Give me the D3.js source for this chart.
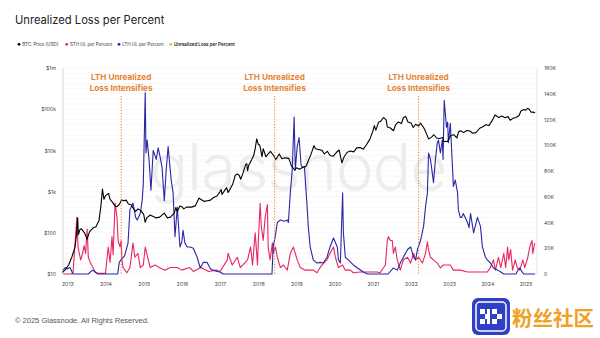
<!DOCTYPE html>
<html><head><meta charset="utf-8">
<script src="https://cdn.jsdelivr.net/npm/d3@7"></script>
<style>
html,body{margin:0;padding:0;background:#fff;}
svg{display:block;font-family:Inter,"Noto Sans",sans-serif;}
</style></head>
<body>
<svg id="chart" width="600" height="338"></svg>
<script>
// ---------- DATA ----------
const title = "Unrealized Loss per Percent";
const legendLabels = ["BTC: Price [USD]", "STH UL per Percent", "LTH UL per Percent", "Unrealized Loss per Percent"];
const yearTicks = [2013,2014,2015,2016,2017,2018,2019,2020,2021,2022,2023,2024,2025];
const leftTicks = [10,100,1000,10000,100000,1000000];
const leftTickLabels = ["$10","$100","$1k","$10k","$100k","$1m"];
const rightTicks = [0,20,40,60,80,100,120,140,160];
const rightTickLabels = ["0","20K","40K","60K","80K","100K","120K","140K","160K"];
const annotationYears = [2014.41, 2018.43, 2022.2];
const annotationLines = ["LTH Unrealized","Loss Intensifies"];

// BTC price (USD) by decimal year
const btcPrice = [
[2012.87,11],[2012.96,13],[2013.04,17],[2013.12,26],[2013.2,45],[2013.24,90],[2013.27,230],[2013.29,90],[2013.33,120],[2013.37,125],[2013.45,100],[2013.52,70],[2013.58,105],[2013.67,130],[2013.75,140],[2013.83,200],[2013.88,450],[2013.92,1150],[2013.96,650],
[2014.0,800],[2014.08,900],[2014.12,650],[2014.17,570],[2014.25,450],[2014.3,430],[2014.37,500],[2014.42,630],[2014.47,600],[2014.54,620],[2014.6,500],[2014.67,480],[2014.72,400],[2014.79,330],[2014.85,380],[2014.92,350],
[2015.0,280],[2015.04,180],[2015.08,230],[2015.17,270],[2015.25,250],[2015.33,230],[2015.42,240],[2015.5,280],[2015.54,300],[2015.62,230],[2015.7,240],[2015.8,300],[2015.84,410],[2015.88,330],[2015.95,450],
[2016.0,430],[2016.05,380],[2016.12,420],[2016.25,420],[2016.35,450],[2016.45,700],[2016.5,640],[2016.58,580],[2016.67,600],[2016.75,620],[2016.83,720],[2016.92,780],
[2017.0,1000],[2017.03,1120],[2017.05,850],[2017.1,1000],[2017.17,1250],[2017.21,950],[2017.25,1100],[2017.33,1500],[2017.4,2500],[2017.45,2700],[2017.5,2500],[2017.54,2000],[2017.6,2800],[2017.67,4500],[2017.7,4800],[2017.72,3200],[2017.75,4300],[2017.83,6000],[2017.88,7500],[2017.92,11000],[2017.96,19000],
[2018.0,14000],[2018.04,13500],[2018.1,7000],[2018.13,11000],[2018.2,7000],[2018.25,8000],[2018.32,9500],[2018.4,7500],[2018.46,6000],[2018.55,8200],[2018.62,6300],[2018.7,6600],[2018.8,6400],[2018.87,4200],[2018.96,3300],
[2019.0,3800],[2019.08,3500],[2019.17,3900],[2019.25,4100],[2019.3,5300],[2019.38,8000],[2019.46,13000],[2019.5,11000],[2019.58,10500],[2019.67,10000],[2019.73,8200],[2019.81,9500],[2019.88,7500],[2019.96,7200],
[2020.05,9000],[2020.12,10200],[2020.19,5000],[2020.25,7000],[2020.33,9000],[2020.42,9700],[2020.5,9200],[2020.58,11500],[2020.67,11700],[2020.75,10700],[2020.83,13500],[2020.92,18500],
[2021.0,29000],[2021.04,40000],[2021.08,31000],[2021.15,48000],[2021.2,50000],[2021.28,63000],[2021.35,55000],[2021.38,37000],[2021.46,35000],[2021.54,30000],[2021.6,42000],[2021.67,49000],[2021.75,45000],[2021.8,62000],[2021.86,67000],[2021.92,49000],
[2022.0,46000],[2022.06,36000],[2022.12,43000],[2022.2,39000],[2022.25,46000],[2022.33,36000],[2022.38,29000],[2022.46,19000],[2022.54,21000],[2022.6,24000],[2022.67,20000],[2022.75,19500],[2022.83,20500],[2022.86,16500],[2022.96,16600],
[2023.04,23000],[2023.12,24000],[2023.2,20000],[2023.25,28500],[2023.3,30000],[2023.38,27000],[2023.46,30500],[2023.54,29500],[2023.62,26000],[2023.7,27000],[2023.8,34500],[2023.88,37500],[2023.96,42000],
[2024.04,40000],[2024.12,52000],[2024.2,72000],[2024.3,63000],[2024.38,68000],[2024.46,62000],[2024.54,66000],[2024.6,54000],[2024.67,60000],[2024.75,63000],[2024.83,70000],[2024.88,90000],[2024.96,98000],
[2025.0,94000],[2025.05,105000],[2025.1,98000],[2025.15,84000],[2025.2,85000],[2025.25,82000]
];

// STH unrealized loss per percent (thousands)
const sthUL = [
[2012.89,0],[2013.1,0],[2013.15,1],[2013.25,44],[2013.28,21],[2013.35,11],[2013.4,16],[2013.44,22],[2013.48,16],[2013.52,35],[2013.55,13],[2013.6,9],[2013.67,5],[2013.72,2],[2013.8,0.5],[2014.0,0.5],
[2014.07,21],[2014.12,9],[2014.17,29],[2014.2,15],[2014.25,55],[2014.3,44],[2014.33,26],[2014.38,21],[2014.41,26],[2014.43,11],[2014.46,5],[2014.56,1],[2014.64,5],[2014.72,24],[2014.77,13],[2014.85,16],[2014.91,5],[2014.99,7],
[2015.04,21],[2015.12,11],[2015.17,5],[2015.3,7],[2015.43,4.7],[2015.56,3],[2015.69,5],[2015.88,5],[2016.0,3],[2016.2,5],[2016.3,2],[2016.5,5],[2016.7,2],[2016.9,3],[2017.0,2],
[2017.19,11],[2017.21,16],[2017.32,7],[2017.45,13],[2017.53,5],[2017.72,11],[2017.8,21],[2017.85,7],[2017.92,32],[2017.98,7],[2018.0,24],[2018.05,55],[2018.08,37],[2018.13,26],[2018.18,44],[2018.24,54],[2018.26,21],[2018.31,11],[2018.37,24],[2018.39,16],[2018.45,21],[2018.5,13],[2018.58,5],[2018.66,7],[2018.76,3],[2018.84,16],[2018.92,21],
[2019.02,11],[2019.1,5],[2019.23,3],[2019.44,3],[2019.54,1],[2019.62,5],[2019.7,8],[2019.8,11],[2019.88,16],[2019.97,21],[2020.02,13],[2020.1,5],[2020.21,7],[2020.28,3],[2020.41,3],[2020.49,1],[2020.67,1.6],[2020.93,1.6],[2021.11,1.6],[2021.19,1],
[2021.33,7],[2021.38,26],[2021.41,29],[2021.46,26],[2021.51,26],[2021.54,16],[2021.59,21],[2021.64,11],[2021.72,3],[2021.8,11],[2021.91,13],[2021.99,8.5],[2022.07,16],[2022.12,11],[2022.2,13],[2022.3,8.5],[2022.38,16],[2022.43,25],[2022.46,19],[2022.51,13],[2022.59,11],[2022.69,8.5],[2022.77,4.7],[2022.85,7],[2022.96,7],
[2023.03,7],[2023.11,3],[2023.29,3],[2023.48,1.6],[2023.69,1.6],[2024.0,1.6],[2024.08,5],[2024.16,11],[2024.21,3],[2024.29,13],[2024.35,5],[2024.43,16],[2024.48,5],[2024.53,21],[2024.56,11],[2024.61,19],[2024.66,3],[2024.73,11],[2024.78,5],[2024.85,3],[2024.93,11],[2024.98,5],
[2025.06,13],[2025.11,21],[2025.17,26],[2025.19,16],[2025.24,24]
];

// LTH unrealized loss per percent (thousands)
const lthUL = [
[2012.89,3],[2012.95,5],[2013.0,4],[2013.07,5],[2013.12,2],[2013.15,0],[2013.55,0],[2013.62,2],[2013.67,3],[2013.75,1],[2013.8,0],[2014.32,0],[2014.36,9],[2014.43,12],[2014.5,14],[2014.59,24],[2014.64,50],[2014.72,55],[2014.79,44],[2014.83,42],[2014.91,47],[2014.96,57],[2014.99,70],
[2015.04,141],[2015.06,94],[2015.09,104],[2015.14,89],[2015.19,65],[2015.25,96],[2015.33,89],[2015.38,98],[2015.43,91],[2015.48,83],[2015.54,57],[2015.59,81],[2015.64,99],[2015.72,73],[2015.77,63],[2015.82,29],[2015.88,52],[2015.95,21],
[2016.0,25],[2016.03,34],[2016.08,24],[2016.14,21],[2016.22,21],[2016.3,20],[2016.4,13],[2016.48,4.7],[2016.56,9],[2016.66,9],[2016.75,4],[2016.82,3],[2016.92,2],[2017.0,1.6],[2017.08,0],
[2018.36,0],[2018.39,21],[2018.45,30],[2018.5,40],[2018.58,42],[2018.68,41],[2018.76,42],[2018.79,40],[2018.84,63],[2018.89,81],[2018.94,122],[2018.97,81],
[2019.02,99],[2019.07,106],[2019.12,85],[2019.15,83],[2019.21,83],[2019.28,52],[2019.31,37],[2019.36,21],[2019.44,11],[2019.54,8.5],[2019.62,9],[2019.7,8.5],[2019.8,13],[2019.88,21],[2019.97,28],
[2020.07,21],[2020.1,11],[2020.15,8.5],[2020.21,63],[2020.23,32],[2020.28,13],[2020.36,11],[2020.49,7],[2020.6,4.7],[2020.75,1.6],[2020.86,0],
[2021.4,0],[2021.54,4.7],[2021.64,3],[2021.72,8.5],[2021.8,13],[2021.91,19],[2021.99,21],[2022.07,13],[2022.12,11],[2022.17,19],[2022.25,26],[2022.33,37],[2022.38,52],[2022.43,63],[2022.46,94],[2022.51,89],[2022.56,78],[2022.59,71],[2022.64,89],[2022.69,102],[2022.72,104],[2022.77,94],[2022.82,104],[2022.84,89],[2022.87,135],[2022.93,114],[2022.96,118],[2022.98,102],
[2023.03,117],[2023.09,81],[2023.11,68],[2023.16,73],[2023.22,63],[2023.24,50],[2023.29,44],[2023.33,44],[2023.37,47],[2023.48,40],[2023.52,36],[2023.56,47],[2023.64,32],[2023.74,44],[2023.82,37],[2023.87,21],[2023.95,13],
[2024.0,11],[2024.08,8.5],[2024.16,4.7],[2024.27,3],[2024.35,1.6],[2024.43,0],[2024.75,0],[2024.8,3],[2024.85,4.7],[2024.9,2],[2024.95,0],[2025.25,0]
];

// ---------- STYLE ----------
const colors = {btc:"#000000", sth:"#ea2563", lth:"#2a26a8", ul:"#e9b44c", anno:"#e8822f"};

// ---------- CHART ----------
const svg = d3.select("#chart");
const L = 63, R = 537, T = 68, B = 274;

const x = d3.scaleLinear().domain([2012.887, 2025.3]).range([L, R]);
const yLog = d3.scaleLog().domain([10, 1000000]).range([B, T]);
const yLin = d3.scaleLinear().domain([0, 160]).range([B, T]);

// minor horizontal grid
svg.append("g").selectAll("line").data(d3.range(0, 161, 4)).join("line")
  .attr("x1", L).attr("x2", R)
  .attr("y1", d => yLin(d)).attr("y2", d => yLin(d))
  .attr("stroke", "#f1f1f1").attr("stroke-width", 0.6);

// watermark
svg.append("text").attr("x", 298).attr("y", 190).attr("text-anchor","middle")
  .attr("font-size", 64).attr("font-weight", 300).attr("fill", "#ededed")
  .attr("letter-spacing", -1).text("glassnode");

// axes lines
svg.append("line").attr("x1",L).attr("x2",L).attr("y1",T).attr("y2",B).attr("stroke","#c9c9c9").attr("stroke-width",0.8);
svg.append("line").attr("x1",R).attr("x2",R).attr("y1",T).attr("y2",B).attr("stroke","#dcd8ec").attr("stroke-width",0.8);

// left axis
const leftAxis = d3.axisLeft(yLog).tickValues(leftTicks).tickSize(0).tickPadding(7)
  .tickFormat((d,i) => leftTickLabels[i]);
svg.append("g").attr("transform", `translate(${L},0)`).call(leftAxis)
  .call(a => a.select(".domain").remove())
  .selectAll("text").attr("font-size", 5.2).attr("fill", "#444").attr("font-family","Inter,sans-serif");

// right axis
const rightAxis = d3.axisRight(yLin).tickValues(rightTicks).tickSize(0).tickPadding(7)
  .tickFormat((d,i) => rightTickLabels[i]);
svg.append("g").attr("transform", `translate(${R},0)`).call(rightAxis)
  .call(a => a.select(".domain").remove())
  .selectAll("text").attr("font-size", 5.2).attr("fill", "#444").attr("font-family","Inter,sans-serif");

// bottom axis
const bottomAxis = d3.axisBottom(x).tickValues(yearTicks).tickSize(0).tickPadding(8).tickFormat(d3.format("d"));
svg.append("g").attr("transform", `translate(0,${B})`).call(bottomAxis)
  .call(a => a.select(".domain").remove())
  .selectAll("text").attr("font-size", 5.2).attr("fill", "#444").attr("font-family","Inter,sans-serif");

// series
const lineLin = d3.line().x(d => x(d[0])).y(d => yLin(d[1]));
const lineLog = d3.line().x(d => x(d[0])).y(d => yLog(d[1]));
svg.append("path").datum(sthUL).attr("d", lineLin).attr("fill","none").attr("stroke",colors.sth).attr("stroke-width",1.1).attr("stroke-linejoin","round");
svg.append("path").datum(lthUL).attr("d", lineLin).attr("fill","none").attr("stroke",colors.lth).attr("stroke-width",1.1).attr("stroke-linejoin","round");
svg.append("path").datum(btcPrice).attr("d", lineLog).attr("fill","none").attr("stroke",colors.btc).attr("stroke-width",1.1).attr("stroke-linejoin","round");

// annotations
annotationYears.forEach(yr => {
  const ax = x(yr);
  svg.append("line").attr("x1",ax).attr("x2",ax).attr("y1",96).attr("y2",B)
    .attr("stroke",colors.anno).attr("stroke-width",1).attr("stroke-dasharray","1.2,1.6");
  annotationLines.forEach((t,i) => {
    svg.append("text").attr("x", ax).attr("y", 80 + i*10.5).attr("text-anchor","middle")
      .attr("font-size", 8.2).attr("font-weight", 700).attr("fill", colors.anno).text(t);
  });
});

// title
svg.append("text").attr("x",15).attr("y",24).attr("font-size",11.2).attr("fill","#222").text(title);

// legend
const legendX = [19, 66.7, 119, 170.7];
const legendColors = [colors.btc, colors.sth, colors.lth, colors.ul];
legendLabels.forEach((lab,i) => {
  svg.append("circle").attr("cx", legendX[i]).attr("cy", 44.3).attr("r", 1.4).attr("fill", legendColors[i]);
  svg.append("text").attr("x", legendX[i] + 3.2).attr("y", 46).attr("font-size", 4.5)
    .attr("fill", i === 3 ? "#222" : "#333").attr("font-weight", i === 3 ? 600 : 400).text(lab);
});

// copyright
svg.append("text").attr("x",15).attr("y",323).attr("font-size",7.5).attr("fill","#555")
  .attr("font-family","Arial,'Liberation Sans',sans-serif").text("© 2025 Glassnode. All Rights Reserved.");

// corner badge
const badge = svg.append("g");
badge.append("rect").attr("x",472).attr("y",298).attr("width",38).attr("height",37).attr("rx",6).attr("fill","#2f3fc6");
badge.append("rect").attr("x",476).attr("y",302).attr("width",30).attr("height",29).attr("rx",4).attr("fill","none").attr("stroke","#fff").attr("stroke-width",1.5);
[[480,309,5,5],[485,314,5,5],[480,319,5,5],[492,309,5,5],[497,314,5,5],[492,319,5,5],[487,309,3,15]].forEach(r=>{
  badge.append("rect").attr("x",r[0]).attr("y",r[1]).attr("width",r[2]).attr("height",r[3]).attr("fill","#fff");
});
svg.append("text").attr("x",512).attr("y",326).attr("font-size",20.5).attr("font-weight",700)
  .attr("font-family","'Noto Sans CJK SC',sans-serif").attr("fill","#f0a023").text("粉丝社区");
</script>
</body></html>
